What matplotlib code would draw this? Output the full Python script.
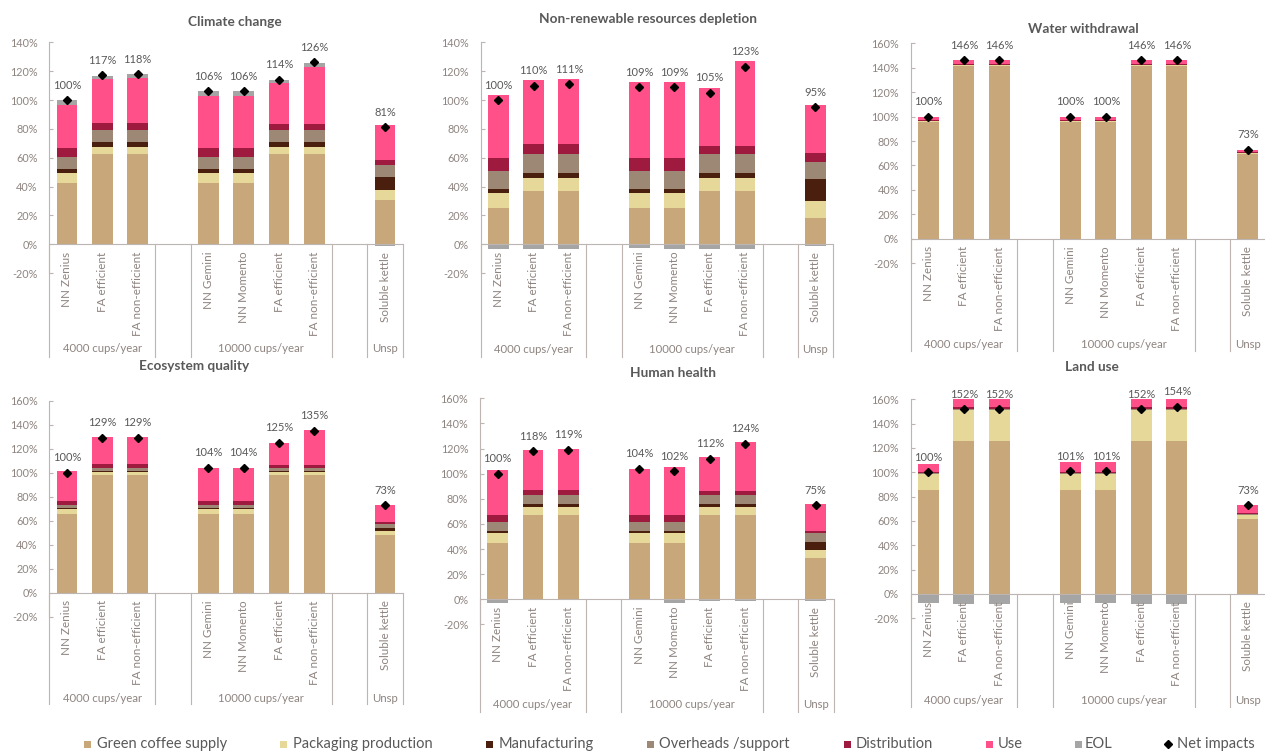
import matplotlib
matplotlib.use("Agg")
import matplotlib.pyplot as plt
from matplotlib.patches import Rectangle
from matplotlib.lines import Line2D

plt.rcParams['font.family'] = ['Lato', 'DejaVu Sans']

# ---------------- data ----------------
categories = ["NN Zenius", "FA efficient", "FA non-efficient", "NN Gemini",
              "NN Momento", "FA efficient", "FA non-efficient", "Soluble kettle"]
groups = ["4000 cups/year", "10000 cups/year", "Unsp"]
stages = ["Green coffee supply", "Packaging production", "Manufacturing",
          "Overheads /support", "Distribution", "Use", "EOL"]

titles = ["Climate change", "Non-renewable resources depletion", "Water withdrawal",
          "Ecosystem quality", "Human health", "Land use"]

# Climate change
cc_green = [42.5, 62.6, 62.6, 42.5, 42.5, 62.6, 62.6, 30.7]
cc_pack = [7.2, 5.1, 5.1, 7.2, 7.2, 5.1, 5.1, 6.9]
cc_manuf = [2.5, 3.4, 3.4, 2.5, 2.5, 3.4, 3.4, 9.3]
cc_over = [8.1, 8.3, 8.3, 8.1, 8.1, 8.3, 8.3, 8.1]
cc_dist = [6.4, 4.9, 4.9, 6.4, 6.4, 4.0, 4.0, 3.7]
cc_use = [29.8, 30.2, 30.7, 35.8, 36.3, 28.1, 39.7, 24.0]
cc_eol = [3.5, 2.4, 3.0, 3.5, 3.5, 2.4, 2.8, -1.0]
cc_net = [100, 117, 118, 106, 106, 114, 126, 81]

# Non-renewable resources depletion
nr_green = [25.2, 37.0, 37.0, 25.2, 25.2, 37.0, 37.0, 18.2]
nr_pack = [10.4, 9.0, 9.0, 10.4, 10.4, 9.0, 9.0, 11.6]
nr_manuf = [2.7, 3.4, 3.4, 2.7, 2.7, 3.4, 3.4, 15.2]
nr_over = [12.5, 13.2, 13.2, 12.5, 12.5, 13.2, 13.2, 12.3]
nr_dist = [8.8, 6.9, 6.9, 8.8, 8.8, 5.5, 5.5, 6.0]
nr_use = [43.6, 44.1, 44.8, 52.6, 52.9, 40.4, 58.7, 33.2]
nr_eol = [-3.0, -3.5, -3.5, -2.8, -3.0, -3.5, -3.5, -1.0]
nr_net = [100, 110, 111, 109, 109, 105, 123, 95]

# Water withdrawal
ww_green = [95.8, 141.7, 141.7, 95.8, 95.8, 141.7, 141.7, 69.6]
ww_pack = [0.3, 0.3, 0.3, 0.3, 0.3, 0.3, 0.3, 0.2]
ww_manuf = [0.1, 0.1, 0.1, 0.1, 0.1, 0.1, 0.1, 0.1]
ww_over = [0.3, 0.3, 0.3, 0.3, 0.3, 0.3, 0.3, 0.3]
ww_dist = [0.9, 0.9, 0.9, 0.9, 0.9, 0.9, 0.9, 0.8]
ww_use = [2.6, 2.7, 2.7, 2.6, 2.6, 2.7, 3.0, 2.0]
ww_eol = [0.0, 0.0, 0.0, 0.0, 0.0, 0.0, 0.0, 0.0]
ww_net = [100, 146, 146, 100, 100, 146, 146, 73]

# Ecosystem quality
eq_green = [65.8, 97.8, 97.8, 65.8, 65.8, 97.8, 97.8, 48.0]
eq_pack = [4.2, 3.0, 3.0, 4.2, 4.2, 3.0, 3.0, 3.4]
eq_manuf = [0.6, 0.8, 0.8, 0.6, 0.6, 0.8, 0.8, 2.8]
eq_over = [2.7, 2.0, 2.0, 2.7, 2.7, 2.0, 2.0, 2.7]
eq_dist = [3.4, 3.3, 3.3, 3.4, 3.4, 2.8, 2.8, 2.0]
eq_use = [24.4, 23.1, 23.1, 27.5, 27.5, 18.6, 28.9, 14.4]
eq_eol = [-1.0, -1.0, -1.0, -0.5, -0.8, -0.4, -0.4, -0.5]
eq_net = [100, 129, 129, 104, 104, 125, 135, 73]

# Human health
hh_green = [45.1, 67.1, 67.1, 45.1, 45.1, 67.1, 67.1, 32.9]
hh_pack = [8.0, 6.5, 6.5, 8.0, 8.0, 6.5, 6.5, 6.3]
hh_manuf = [1.6, 2.4, 2.4, 1.6, 1.6, 2.4, 2.4, 6.2]
hh_over = [7.1, 7.2, 7.2, 7.1, 7.1, 7.2, 7.2, 7.1]
hh_dist = [5.6, 3.6, 3.6, 5.6, 5.6, 3.4, 3.4, 2.1]
hh_use = [35.3, 32.3, 32.9, 36.6, 37.7, 26.9, 38.6, 21.5]
hh_eol = [-3.0, -0.8, -0.7, -0.3, -2.7, -1.0, -1.0, -1.3]
hh_net = [100, 118, 119, 104, 102, 112, 124, 75]

# Land use
lu_green = [85.5, 125.8, 125.8, 85.5, 85.5, 125.8, 125.8, 62.0]
lu_pack = [13.1, 25.4, 25.4, 13.1, 13.1, 25.4, 25.4, 3.0]
lu_manuf = [0.2, 0.3, 0.3, 0.2, 0.2, 0.3, 0.3, 0.2]
lu_over = [0.4, 0.5, 0.5, 0.4, 0.4, 0.5, 0.5, 0.9]
lu_dist = [1.4, 1.6, 1.6, 1.4, 1.4, 1.6, 1.6, 0.6]
lu_use = [6.3, 7.0, 7.0, 8.2, 8.2, 7.0, 9.0, 6.6]
lu_eol = [-7.4, -8.6, -8.6, -7.7, -7.7, -8.6, -8.6, 0.0]
lu_net = [100, 152, 152, 101, 101, 152, 154, 73]

panels_data = [
    [cc_green, cc_pack, cc_manuf, cc_over, cc_dist, cc_use, cc_eol, cc_net],
    [nr_green, nr_pack, nr_manuf, nr_over, nr_dist, nr_use, nr_eol, nr_net],
    [ww_green, ww_pack, ww_manuf, ww_over, ww_dist, ww_use, ww_eol, ww_net],
    [eq_green, eq_pack, eq_manuf, eq_over, eq_dist, eq_use, eq_eol, eq_net],
    [hh_green, hh_pack, hh_manuf, hh_over, hh_dist, hh_use, hh_eol, hh_net],
    [lu_green, lu_pack, lu_manuf, lu_over, lu_dist, lu_use, lu_eol, lu_net],
]
y_max = [140, 140, 160, 160, 160, 160]

# ---------------- style / layout ----------------
colors = ["#C8A77A", "#E6D899", "#4B1F0E", "#9C8874", "#9E1A3E", "#FF5089", "#A5A5A5"]
AXIS_COLOR = "#BDB5B1"
TICK_COLOR = "#8E8480"
LABEL_COLOR = "#595959"
TITLE_COLOR = "#595959"

W, H = 1265, 752
# (left, right, top_px, zero_px, sep_bottom_px, group_y_px, title_x, title_y)
geom = [
    (49.3, 402.7, 42.3, 244.3, 356.7, 349.0, 235.0, 21.7),
    (480.7, 833.0, 42.3, 244.3, 356.7, 349.3, 647.7, 19.3),
    (910.7, 1265.7, 43.3, 238.7, 350.7, 344.0, 1083.0, 29.3),
    (49.3, 402.7, 400.7, 592.7, 704.3, 698.0, 194.3, 366.0),
    (480.0, 833.5, 398.3, 599.3, 711.7, 705.0, 673.3, 372.7),
    (910.7, 1265.7, 399.3, 594.0, 706.7, 700.0, 1091.7, 366.7),
]
bar_x = [1, 2, 3, 5, 6, 7, 8, 10]
group_x = [2, 6.5, 10]
sep_x = [0.5, 3.5, 4.5, 8.5, 9.5, 10.5]
BAR_W = 0.59

fig = plt.figure(figsize=(W / 100, H / 100), dpi=100)

for k, (data, ymax, g, title) in enumerate(zip(panels_data, y_max, geom, titles)):
    left, right, top, zero, sep_bot, grp_y, tx, ty = g
    ax_bottom = zero + (zero - top) * 20 / ymax
    ax = fig.add_axes([left / W, 1 - ax_bottom / H, (right - left) / W, (ax_bottom - top) / H])
    ax.patch.set_alpha(0)
    ax.set_xlim(0.5, 10.5)
    ax.set_ylim(-20, ymax)

    def yfrac(py, ab=ax_bottom, tp=top):
        return (ab - py) / (ab - tp)

    pos_base = [0.0] * len(bar_x)
    neg_base = [0.0] * len(bar_x)
    for comp, col in zip(data[:7], colors):
        bottoms = []
        for i, v in enumerate(comp):
            if v >= 0:
                bottoms.append(pos_base[i])
                pos_base[i] += v
            else:
                bottoms.append(neg_base[i])
                neg_base[i] += v
        ax.bar(bar_x, comp, BAR_W, bottom=bottoms, color=col, linewidth=0, zorder=2)

    net = data[7]
    ax.plot(bar_x, net, 'D', color='black', ms=3.9, zorder=5, clip_on=False)
    for x, v in zip(bar_x, net):
        ax.annotate(f"{v}%", (x, v), xytext=(0, 10.8), textcoords='offset points',
                    ha='center', va='center', fontsize=8, color=LABEL_COLOR, zorder=6,
                    annotation_clip=False)

    ax.axhline(0, color=AXIS_COLOR, lw=0.8, zorder=3)
    for s in ['top', 'right', 'bottom']:
        ax.spines[s].set_visible(False)
    ax.spines['left'].set_color(AXIS_COLOR)
    ax.spines['left'].set_linewidth(0.8)
    ticks = list(range(-20, ymax + 1, 20))
    ax.set_yticks(ticks)
    ax.set_yticklabels([f"{t}%" for t in ticks])
    ax.tick_params(axis='y', direction='in', length=3, width=0.8, color=AXIS_COLOR,
                   labelsize=7.8, labelcolor=TICK_COLOR, pad=8.4)
    ax.tick_params(axis='x', bottom=False, labelbottom=False)

    xt = ax.get_xaxis_transform()
    for sx in sep_x:
        ax.plot([sx, sx], [yfrac(zero), yfrac(sep_bot)], transform=xt, color=AXIS_COLOR,
                lw=0.8, clip_on=False, zorder=3)
    for x, name in zip(bar_x, categories):
        ax.text(x, yfrac(zero + 7.5), name, rotation=90, ha='center', va='top',
                transform=xt, fontsize=8.4, color=TICK_COLOR, clip_on=False)
    for x, gname in zip(group_x, groups):
        ax.text(x, yfrac(grp_y), gname, ha='center', va='center', transform=xt,
                fontsize=8.2, color=TICK_COLOR, clip_on=False)

    fig.text(tx / W, 1 - ty / H, title, ha='center', va='center', fontsize=9.8,
             fontweight='bold', color=TITLE_COLOR)

# ---------------- legend ----------------
LEG_Y = 744
leg_patch_x = [84, 280, 486, 647, 844, 985.6, 1075]
leg_text_x = [97, 293, 499, 659, 855.5, 998, 1085]
PS = 7
for name, col, px, txx in zip(stages, colors, leg_patch_x, leg_text_x):
    fig.patches.append(Rectangle((px / W, 1 - (LEG_Y + PS / 2) / H), PS / W, PS / H,
                                 transform=fig.transFigure, facecolor=col, edgecolor='none'))
    fig.text(txx / W, 1 - LEG_Y / H, name, ha='left', va='center', fontsize=10.5,
             color=LABEL_COLOR)
fig.add_artist(Line2D([1167.5 / W], [1 - LEG_Y / H], marker='D', ms=3.8, color='black',
                      linestyle='none', transform=fig.transFigure))
fig.text(1177 / W, 1 - LEG_Y / H, "Net impacts", ha='left', va='center', fontsize=10.5,
         color=LABEL_COLOR)

fig.savefig("out.png", dpi=100)
